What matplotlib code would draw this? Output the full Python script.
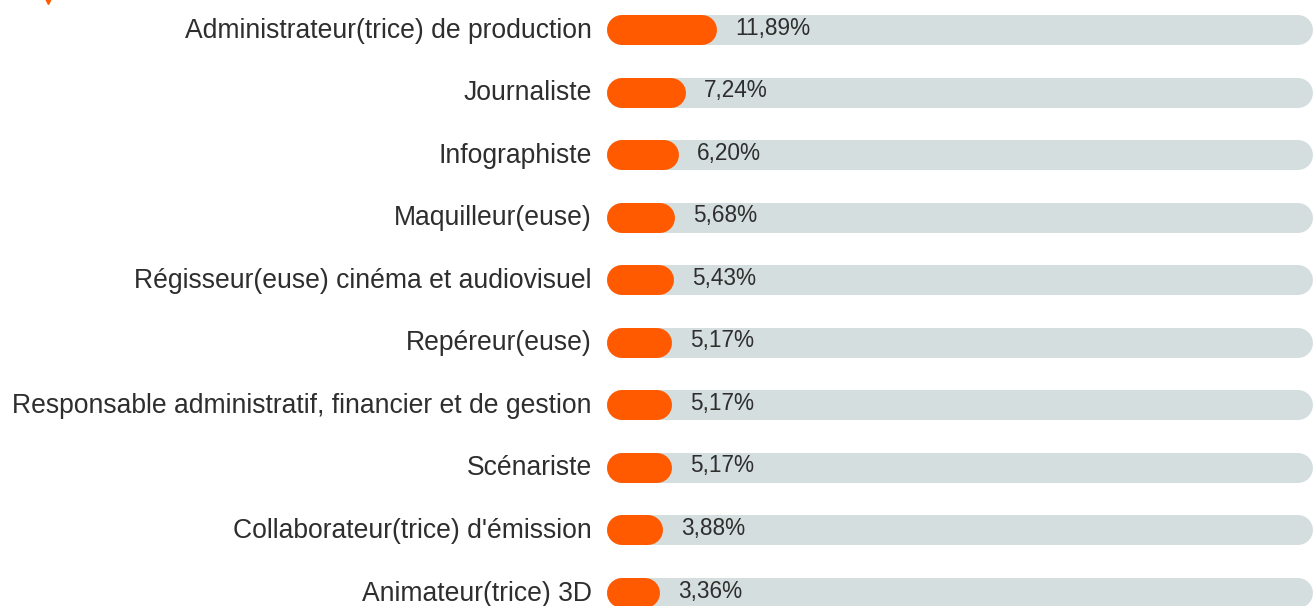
import matplotlib
matplotlib.use("Agg")
import matplotlib.pyplot as plt
from matplotlib.lines import Line2D

categories = [
    "Administrateur(trice) de production",
    "Journaliste",
    "Infographiste",
    "Maquilleur(euse)",
    "Régisseur(euse) cinéma et audiovisuel",
    "Repéreur(euse)",
    "Responsable administratif, financier et de gestion",
    "Scénariste",
    "Collaborateur(trice) d'émission",
    "Animateur(trice) 3D",
]
values = [11.89, 7.24, 6.20, 5.68, 5.43, 5.17, 5.17, 5.17, 3.88, 3.36]
value_labels = ["11,89%", "7,24%", "6,20%", "5,68%", "5,43%", "5,17%", "5,17%", "5,17%", "3,88%", "3,36%"]
track_max = 100

W, H, DPI = 1314, 606, 100
plt.rcParams['font.family'] = ['Liberation Sans', 'DejaVu Sans']

fig = plt.figure(figsize=(W / DPI, H / DPI), dpi=DPI)
fig.patch.set_facecolor("white")

x0_px, x1_px = 622, 1298
ax = fig.add_axes([x0_px / W, 0, (x1_px - x0_px) / W, 1])
ax.set_xlim(0, track_max)
row0, step = 30, 62.56
ax.set_ylim((H - row0) / step, -row0 / step)
ax.axis("off")

lw_pt = 30 * 72 / DPI
orange = "#FF5A00"
track = "#D5DEDE"
text_col = "#2E2E2E"

for i, (cat, v, lab) in enumerate(zip(categories, values, value_labels)):
    ax.plot([0, track_max], [i, i], color=track, lw=lw_pt, solid_capstyle="round",
            clip_on=False, zorder=1)
    ax.plot([0, v], [i, i], color=orange, lw=lw_pt, solid_capstyle="round",
            clip_on=False, zorder=2)
    ax.annotate(cat, xy=(0, i), xytext=(-30 * 72 / DPI, -0.5 * 72 / DPI), textcoords="offset points",
                ha="right", va="center", fontsize=19.1, color=text_col,
                annotation_clip=False)
    ax.annotate(lab, xy=(v, i), xytext=(33 * 72 / DPI, 2.0 * 72 / DPI), textcoords="offset points",
                ha="left", va="center", fontsize=16.3, color=text_col,
                annotation_clip=False)

# small cropped orange mark at top-left
fig.add_artist(Line2D([48 / W], [1.0 + 2 / H], marker="v", markersize=9,
                      color=orange, transform=fig.transFigure, clip_on=False))

fig.savefig("out.png", dpi=DPI, facecolor="white")
